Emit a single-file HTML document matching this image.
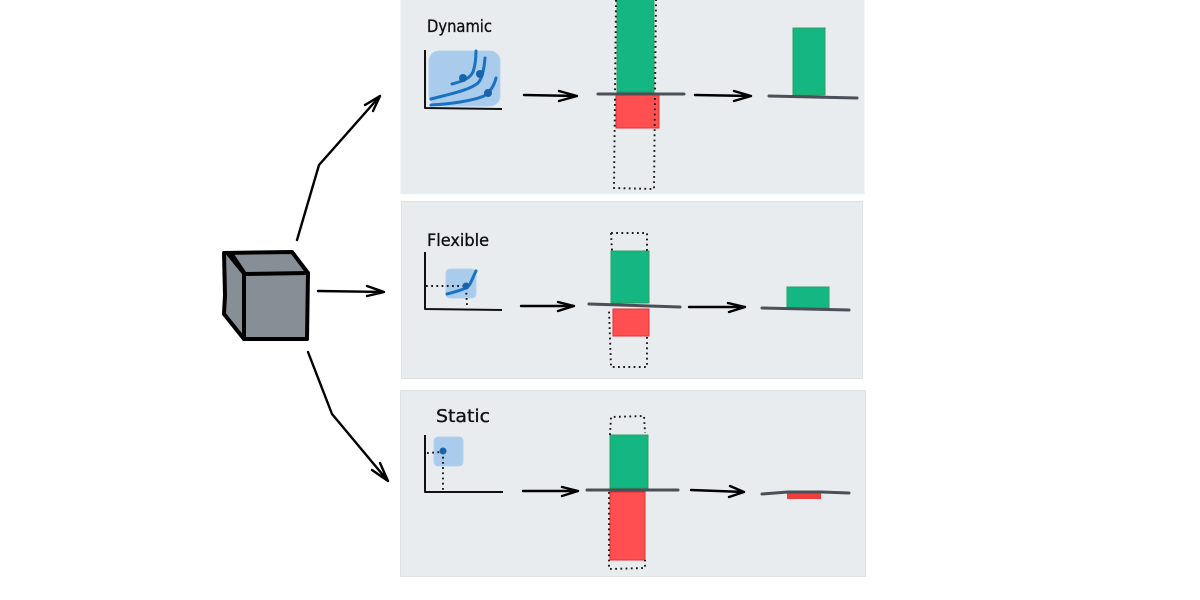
<!DOCTYPE html>
<html><head><meta charset="utf-8"><style>
html,body{margin:0;padding:0;background:#fff;width:1200px;height:600px;overflow:hidden}
svg{display:block}
text{font-family:"DejaVu Sans","Liberation Sans",sans-serif;font-size:17px;fill:#111;stroke:#111;stroke-width:.35}
.a{fill:none;stroke:#000;stroke-width:2.4;stroke-linecap:round;stroke-linejoin:round}
.ax{fill:none;stroke:#111;stroke-width:2;stroke-linejoin:round}
.d{fill:none;stroke:#1a1a1a;stroke-width:1.9;stroke-dasharray:1.8 3.4}
.b{fill:none;stroke:#495057;stroke-width:3;stroke-linecap:round}
.g{fill:#14b781;stroke:#2f9e62;stroke-width:1}
.r{fill:#ff4f50;stroke:#e03131;stroke-width:1}
.bl{fill:#a9cbec;stroke:#b5d2ef;stroke-width:1}
.c{fill:none;stroke:#1971c2;stroke-width:3;stroke-linecap:round}
.dot{fill:#1864ab}
</style></head><body>
<svg width="1200" height="600" viewBox="0 0 1200 600" xmlns="http://www.w3.org/2000/svg">
<rect width="1200" height="600" fill="#fff"/>
<rect x="400.5" y="-2" width="464" height="196" fill="#e9ecef" stroke="#f1f3f5"/>
<rect x="401.5" y="201.5" width="461" height="177" fill="#e9ecef" stroke="#dee2e6"/>
<rect x="400.5" y="390.5" width="465" height="186" fill="#e9ecef" stroke="#dee2e6"/>

<!-- cube -->
<path d="M224 252L292 252L308 273L244 273Z" fill="#868e96"/>
<path d="M224 252L244 273L244 339L223 314Z" fill="#868e96"/>
<path d="M244 273H308V339H244Z" fill="#868e96"/>
<g fill="none" stroke="#000" stroke-width="4" stroke-linejoin="round" stroke-linecap="round">
<path d="M224 253L292 252L308 273L307 339L244 339L224 314L225 295L224 253Z"/>
<path d="M244 274L308 273M244 274L244 339"/>
</g>
<path d="M224 252L234 254L246 272L242 274Z" fill="#000"/>

<!-- main arrows -->
<path class="a" d="M297 240L319 165L380 96M365 105L380 96L373 111"/>
<path class="a" d="M318 291L384 292M367 286L384 292L367 296"/>
<path class="a" d="M308 352L332 414L388 481M372 470L388 481L380 463" stroke-width="2.8"/>

<!-- Dynamic -->
<text x="427" y="32" textLength="65" lengthAdjust="spacingAndGlyphs">Dynamic</text>
<rect class="bl" x="429" y="51" width="71" height="55" rx="10"/>
<path class="ax" d="M425 50L425 108L502 109"/>
<path class="c" d="M452 84C464 81 470 78 473 72C475 66 476 58 476 51"/>
<path class="c" d="M431 99C450 94 470 90 478 83C482 79 484 70 485 58"/>
<path class="c" d="M431 105C450 104 472 101 484 96C490 92 494 86 496 78"/>
<circle class="dot" cx="463" cy="78" r="4"/><circle class="dot" cx="480" cy="74" r="4"/><circle class="dot" cx="488" cy="93" r="4"/>
<path class="a" d="M524 95L577 96M559 91L577 96L559 101" stroke-width="2.6"/>
<rect class="g" x="617" y="-2" width="37" height="94"/>
<rect class="r" x="616" y="95" width="43" height="33"/>
<path class="d" d="M616 0L614 188L654 189L656 0"/>
<path class="b" d="M598 94L684 94"/>
<path class="a" d="M695 95L751 96M734 91L751 96L734 101" stroke-width="3"/>
<rect class="g" x="793" y="28" width="32" height="67"/>
<path class="b" d="M769 96L857 98"/>

<!-- Flexible -->
<text x="427" y="246" textLength="62" lengthAdjust="spacingAndGlyphs">Flexible</text>
<rect class="bl" x="446" y="269" width="30" height="29" rx="4"/>
<path class="ax" d="M425 252L425 309L502 310"/>
<path class="d" d="M426 286L466 286L467 306"/>
<path class="c" d="M447 294C457 291 466 290 470 284C472 280 474 275 476 271"/>
<circle class="dot" cx="466" cy="286" r="3.5"/>
<path class="a" d="M521 306L574 306M558 302L574 306L558 311" stroke-width="2.8"/>
<rect class="g" x="611" y="251" width="38" height="52"/>
<rect class="r" x="613" y="309" width="36" height="27"/>
<path class="d" d="M611 233L647 233L647 251M647 337L647 367L611 367L609 310M611 233L612 251"/>
<path class="b" d="M589 304L680 307"/>
<path class="a" d="M689 307L745 307M728 303L745 307L729 312"/>
<rect class="g" x="787" y="287" width="42" height="21"/>
<path class="b" d="M762 308L849 310"/>

<!-- Static -->
<text x="436" y="422" textLength="54" lengthAdjust="spacingAndGlyphs" style="font-size:18px">Static</text>
<rect class="bl" x="434" y="437" width="29" height="29" rx="4"/>
<path class="ax" d="M425 435L425 492L503 492"/>
<path class="d" d="M427 453L443 452L443 491"/>
<circle class="dot" cx="443" cy="451" r="3.5"/>
<path class="a" d="M523 491L578 491M562 487L578 491L562 496" stroke-width="3.2"/>
<rect class="g" x="610" y="435" width="38" height="53"/>
<rect class="r" x="610" y="492" width="35" height="68"/>
<path class="d" d="M610 435L611 417L644 416L645 433M609 492L609 569L645 568L645 560"/>
<path class="b" d="M587 490L678 490" stroke-width="2.2"/>
<path class="a" d="M691 490L744 492M730 486L744 492L729 497"/>
<rect x="787" y="493" width="34" height="6" fill="#f03e3e"/>
<path class="b" d="M762 494L788 492L821 492L849 493" stroke="#343a40" stroke-width="2.2"/>
</svg>
</body></html>
